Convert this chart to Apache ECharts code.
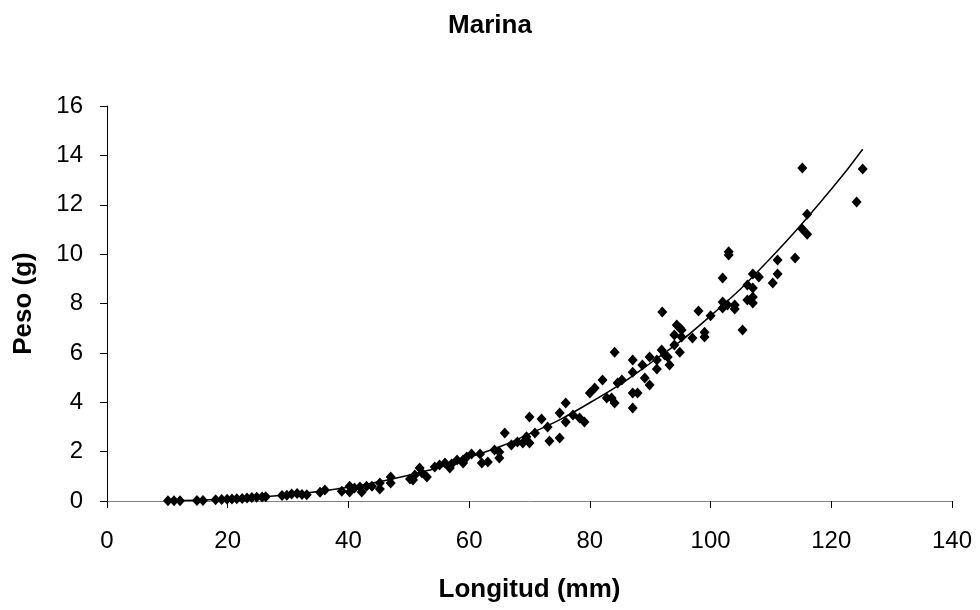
<!DOCTYPE html>
<html>
<head>
<meta charset="utf-8">
<title>Marina</title>
<script src="https://cdn.jsdelivr.net/npm/echarts@6/dist/echarts.min.js"></script>
<style>
  html, body { margin: 0; padding: 0; background: #fff; }
  #chart { width: 980px; height: 610px; }
</style>
</head>
<body>
<div id="chart"></div>
<script>
// longitud (mm) / peso (g) pairs
var muestras = [
  [10.1,0.01],[11.1,0.01],[12.1,0.01],[14.9,0.02],[15.9,0.02],[18,0.05],[19,0.06],[19.9,0.07],
  [20.7,0.08],[21.5,0.09],[22.4,0.1],[23.2,0.12],[24,0.14],[24.8,0.15],[25.7,0.16],[26.3,0.17],
  [29,0.22],[29.8,0.23],[30.6,0.28],[31.5,0.3],[32.3,0.26],[33.1,0.25],
  [35.3,0.35],[36.1,0.45],[38.9,0.4],[40.2,0.6],[40.2,0.36],[41,0.53],[41.9,0.57],[42.2,0.36],
  [43,0.6],[43.9,0.6],[45.2,0.73],[45.2,0.49],
  [47,0.97],[47,0.73],[50.2,0.89],[50.7,0.85],[51,1.05],[51.8,1.34],[52.2,1.13],[53,0.97],
  [54.3,1.38],[55.1,1.46],[56,1.54],[56.8,1.34],[57.1,1.5],[58,1.66],[59,1.66],[59.6,1.78],
  [60.4,1.9],[59,1.54],
  [61.8,1.9],[62.1,1.54],[63.1,1.58],[64.2,2.07],[65,1.74],[65,1.98],[65.9,2.75],
  [67,2.27],[68,2.39],[68.9,2.35],[69.5,2.6],[70,2.35],[70,3.4],[70.9,2.75],[72,3.32],
  [73,3.0],[73.3,2.43],[75,3.56],[75,2.55],[76,3.97],[76,3.2],
  [77.2,3.48],[78.3,3.36],[79.1,3.2],
  [80,4.37],[80.8,4.58],[82.1,4.9],[82.8,4.17],[83.6,4.17],[84.1,3.97],[84.1,6.03],[84.6,4.78],[85.3,4.9],
  [87.1,5.71],[87.1,5.22],[87.1,4.37],[87.9,4.37],[87.1,3.77],[88.7,5.51],[89.1,4.98],[89.9,4.7],
  [89.9,5.83],[91.1,5.71],[91.1,5.35],[91.9,6.12],[92.4,5.91],[92.9,5.83],[93.2,5.51],[94,6.72],
  [94,6.32],[94.9,7.01],[94.9,6.03],[94.4,7.13],[92,7.66],
  [95.2,6.93],[95.2,6.64],[97,6.6],[98,7.7],[99,6.84],[99,6.64],[100,7.5],
  [102,9.03],[103,10.1],[103,9.96],[102,8.06],[102,7.82],[102.8,7.94],[104,7.94],[104,7.78],[105.3,6.93],
  [106.1,8.75],[106.1,8.14],[107,9.19],[107,8.63],[107,8.26],[107,8.02],[108,9.07],
  [110.3,8.83],[111.1,9.76],[111.1,9.19],[114,9.84],[115.2,13.49],[115.2,11.02],[116,11.62],
  [116,10.81],[124.2,12.11],[125.2,13.45]
];

// fitted curve
var curvaX = [10, 20, 30, 40, 50, 60, 70, 80, 90, 100, 110, 120, 125.2];
var curvaY = [0.01, 0.08, 0.25, 0.56, 1.04, 1.76, 2.72, 3.98, 5.58, 7.5, 9.85, 12.63, 14.25];

var curva = curvaX.map(function (x, i) { return [x, curvaY[i]]; });

var fuente = 'Liberation Sans, Arial, sans-serif';
var chart = echarts.init(document.getElementById('chart'));
chart.setOption({
  animation: false,
  backgroundColor: '#fff',
  title: {
    text: 'Marina',
    left: 'center',
    top: 8,
    textStyle: { fontFamily: fuente, fontSize: 26, fontWeight: 'bold', color: '#000' }
  },
  grid: { left: 107, right: 28, top: 106, bottom: 109 },
  xAxis: {
    type: 'value',
    min: 0, max: 140, interval: 20,
    name: 'Longitud (mm)',
    nameLocation: 'middle',
    nameGap: 76,
    nameTextStyle: { fontFamily: fuente, fontSize: 26, fontWeight: 'bold', color: '#000' },
    axisLine: { show: true, lineStyle: { color: '#808080', width: 1 } },
    axisTick: { show: true, length: 7, lineStyle: { color: '#000' } },
    axisLabel: { margin: 28, fontFamily: fuente, fontSize: 24, color: '#000' },
    splitLine: { show: false }
  },
  yAxis: {
    type: 'value',
    min: 0, max: 16, interval: 2,
    name: 'Peso (g)',
    nameLocation: 'middle',
    nameGap: 70,
    nameTextStyle: { fontFamily: fuente, fontSize: 26, fontWeight: 'bold', color: '#000' },
    axisLine: { show: true, lineStyle: { color: '#000', width: 1 } },
    axisTick: { show: true, length: 7, lineStyle: { color: '#000' } },
    axisLabel: { margin: 24, fontFamily: fuente, fontSize: 24, color: '#000' },
    splitLine: { show: false }
  },
  series: [
    {
      name: 'Ajuste',
      type: 'line',
      data: curva,
      smooth: true,
      showSymbol: false,
      lineStyle: { color: '#000', width: 1.5 },
      z: 1
    },
    {
      name: 'Marina',
      type: 'scatter',
      data: muestras,
      symbol: 'diamond',
      symbolSize: [10, 11],
      itemStyle: { color: '#000', opacity: 1 },
      z: 2
    }
  ]
});
</script>
</body>
</html>
